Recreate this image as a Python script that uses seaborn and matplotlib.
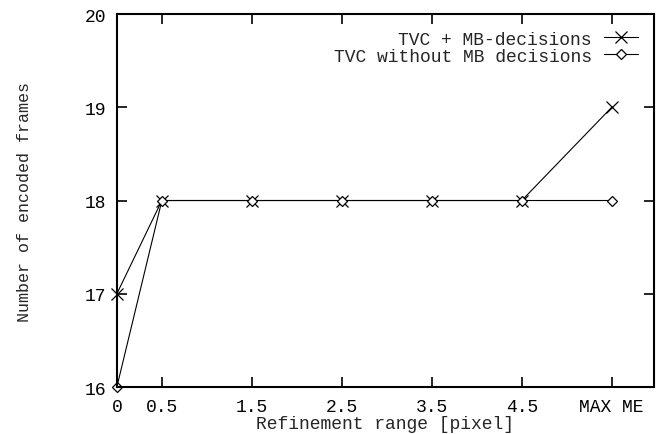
import matplotlib
matplotlib.use("Agg")
import matplotlib.pyplot as plt
import seaborn as sns
import pandas as pd

# Data
x_pos = [0, 0.5, 1.5, 2.5, 3.5, 4.5, 5.5]
x_labels = ["0", "0.5", "1.5", "2.5", "3.5", "4.5", "MAX ME"]
tvc_mb = [17, 18, 18, 18, 18, 18, 19]
tvc_no_mb = [16, 18, 18, 18, 18, 18, 18]
y_ticks = [16, 17, 18, 19, 20]
series_names = ["TVC + MB-decisions", "TVC without MB decisions"]

sns.set_style("ticks")
plt.rcParams["font.family"] = ["Liberation Mono", "DejaVu Sans Mono"]
FS = 13

df1 = pd.DataFrame({"x": x_pos, "y": tvc_mb})
df2 = pd.DataFrame({"x": x_pos, "y": tvc_no_mb})

fig = plt.figure(figsize=(6.64, 4.35), dpi=100)
ax = fig.add_axes([0.176, 0.108, 0.809, 0.8575])

sns.lineplot(data=df1, x="x", y="y", color="black", marker="x",
             markersize=8.5, markeredgewidth=0.9, markeredgecolor="black",
             linewidth=0.8, ax=ax, clip_on=False)
sns.lineplot(data=df2, x="x", y="y", color="black", marker="D",
             markersize=5.5, markerfacecolor="white", markeredgecolor="black",
             markeredgewidth=0.9, linewidth=0.8, ax=ax, clip_on=False)

lines = ax.get_lines()

ax.set_xlim(0, 5.97)
ax.set_ylim(16, 20)
ax.set_xticks(x_pos)
ax.set_xticklabels(x_labels)
ax.set_yticks(y_ticks)
ax.tick_params(direction="in", length=7, width=1.2, top=True, right=True,
               labelsize=FS, colors="black")
ax.tick_params(axis="x", pad=8)
ax.tick_params(axis="y", pad=8)
for s in ax.spines.values():
    s.set_linewidth(1.5)
    s.set_color("black")

ax.set_xlabel("Refinement range [pixel]", fontsize=FS)
ax.xaxis.set_label_coords(0.5, -0.075)
ax.xaxis.label.set_va("top")
ax.set_ylabel("Number of encoded frames", fontsize=12)
ax.yaxis.set_label_coords(-0.172, 0.5)
ax.yaxis.label.set_va("center")

leg = ax.legend(lines[:2], series_names, loc="upper right",
                bbox_to_anchor=(0.970, 0.955),
                markerfirst=False, frameon=False, handlelength=1.9,
                handletextpad=0.67, labelspacing=0.0, borderaxespad=0,
                borderpad=0, fontsize=FS)

fig.savefig("out.png", dpi=100)
